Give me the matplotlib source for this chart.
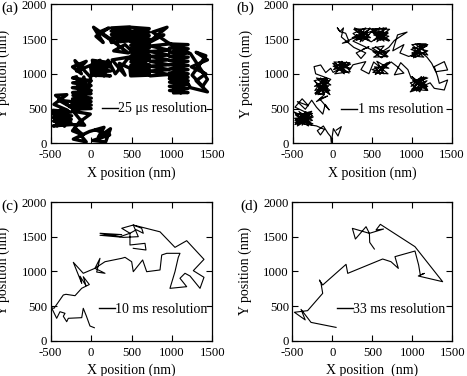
import matplotlib
matplotlib.use('Agg')
import matplotlib.pyplot as plt
from matplotlib.lines import Line2D

plt.rcParams['font.family'] = ['Liberation Serif', 'DejaVu Serif']
plt.rcParams['axes.unicode_minus'] = False

# trajectory, nm (x, y) in time order
traj_a = [
    (60, 190), (230, 120), (20, 40), (180, 20), (240, 210), (90, 90), (160, 230),
    (-20, 170), (-220, 60), (-60, 20), (-200, 220), (-100, 120), (-230, 180),
    (-150, 300), (-10, 420), (-220, 460), (-80, 260),
    (-240, 270), (-470, 250), (-250, 300), (-465, 320), (-245, 345), (-470, 370),
    (-240, 395), (-468, 420), (-245, 450), (-470, 475), (-420, 250), (-380, 478),
    (-330, 245), (-290, 475),
    (-460, 560), (-300, 700), (-440, 690), (-250, 520), (-400, 620), (-240, 600),
    (-230, 490), (0, 500), (-232, 540), (2, 550), (-228, 590), (0, 600), (-230, 640),
    (3, 650), (-225, 690), (0, 715),
    (-230, 730), (2, 760), (-232, 800), (0, 830), (-228, 870), (3, 900), (-230, 940),
    (-180, 958), (-140, 722), (-90, 955), (-40, 725), (-5, 950),
    (-200, 1190), (-120, 1000), (-230, 1100), (-60, 1180), (-180, 1040), (-10, 1120),
    (10, 980), (240, 970), (12, 1020), (242, 1040), (8, 1080), (240, 1100), (12, 1140),
    (238, 1160), (15, 1195), (60, 970), (110, 1195), (160, 970), (210, 1195),
    (300, 1000), (470, 1240), (260, 1200), (420, 980), (350, 1150), (480, 1080),
    (490, 970), (720, 980), (492, 1020), (722, 1030), (488, 1070), (720, 1080),
    (490, 1120), (722, 1130), (492, 1170), (720, 1195),
    (490, 1210), (722, 1220), (495, 1260), (720, 1270), (490, 1310), (722, 1320),
    (492, 1360), (720, 1370), (490, 1410), (718, 1435), (540, 1205), (600, 1435), (660, 1205),
    (730, 970), (960, 990), (728, 1040), (962, 1060), (730, 1110), (960, 1130),
    (728, 1180), (962, 1200), (730, 1250), (960, 1270), (728, 1320), (962, 1340),
    (735, 1400), (960, 1430),
    (970, 1430), (1200, 1420), (968, 1370), (1202, 1360), (970, 1310), (1200, 1300),
    (968, 1250), (1202, 1240), (970, 1190), (1200, 1180), (968, 1130), (1202, 1120),
    (970, 1070), (1200, 1060), (968, 1010), (1202, 1000), (970, 965),
    (1200, 950), (968, 930), (1202, 900), (970, 880), (1200, 850), (968, 820),
    (1202, 790), (970, 760), (1200, 730), (1020, 725), (1060, 955), (1110, 725), (1150, 955),
    (1230, 800), (1440, 740), (1300, 900), (1420, 1000), (1240, 1100), (1440, 1200),
    (1300, 1310), (1420, 1260), (1250, 980), (1380, 820), (1440, 920), (1230, 1290),
    (950, 1450), (760, 1600), (940, 1670), (740, 1480), (900, 1560),
    (720, 1450), (490, 1460), (722, 1500), (488, 1510), (720, 1550), (490, 1560),
    (722, 1600), (488, 1610), (720, 1650), (490, 1670),
    (480, 1675), (250, 1660), (482, 1625), (248, 1615), (480, 1575), (250, 1565),
    (482, 1525), (248, 1515), (480, 1475), (250, 1450),
    (240, 1500), (30, 1670), (150, 1450), (60, 1540), (220, 1660), (100, 1600),
    (300, 1440), (460, 1300), (280, 1330), (420, 1420), (500, 1330),
]

traj_b = [
    (50, 190), (113, 240), (71, 105), (13, 211), (-13, 10), (-21, 96), (-55, 144),
    (-113, 249), (-189, 182), (-150, 120), (-100, 200), (-200, 250),
    (-470, 300), (-250, 430), (-460, 420), (-260, 260), (-420, 460), (-300, 250),
    (-475, 360), (-240, 380), (-440, 250), (-330, 455), (-470, 270), (-250, 330),
    (-400, 440), (-280, 300), (-460, 400), (-260, 460), (-380, 260), (-320, 420),
    (-470, 330), (-245, 280), (-430, 380), (-290, 440), (-360, 300), (-480, 450),
    (-300, 360), (-420, 290), (-250, 400),
    (-470, 520), (-380, 640), (-300, 540), (-440, 600), (-340, 490), (-260, 620),
    (-200, 520), (-120, 420), (-90, 560), (-40, 480), (-160, 640), (-60, 680),
    (-200, 600), (-100, 700),
    (-220, 720), (-40, 900), (-200, 940), (-30, 760), (-180, 700), (-60, 930),
    (-225, 820), (-20, 840), (-150, 940), (-100, 710), (-210, 880), (-40, 720),
    (-130, 900), (-220, 760), (-50, 820), (-170, 730), (-80, 940), (-230, 900),
    (-30, 700), (-140, 800), (-200, 850), (-60, 760), (-120, 930), (-210, 700), (-20, 920),
    (-210, 1000), (-230, 1103), (-147, 1127), (-84, 1017), (-21, 1079),
    (10, 1020), (220, 1160), (20, 1170), (210, 1010), (40, 1100), (230, 1080),
    (5, 1150), (150, 1000), (80, 1175), (200, 1120), (15, 1060), (120, 1180),
    (225, 1030), (30, 1000), (180, 1170), (60, 1040), (230, 1140), (10, 1110),
    (170, 1020), (100, 1160), (220, 1060),
    (260, 1130), (420, 1175), (360, 1060), (460, 1000),
    (520, 1170), (700, 1000), (510, 1020), (690, 1160), (600, 990), (530, 1100),
    (710, 1080), (560, 1180), (650, 1000), (500, 1060), (680, 1130), (580, 1040),
    (720, 1170), (540, 990),
    (740, 1170), (820, 1100), (900, 1010), (780, 985), (860, 1160), (950, 1060),
    (990, 940), (1190, 760), (1000, 780), (1180, 950), (1010, 900), (1200, 820),
    (980, 740), (1150, 960), (1060, 750), (1190, 900), (990, 820), (1120, 960),
    (1200, 760), (1000, 960), (1170, 800), (1040, 870), (1200, 940), (980, 870),
    (1100, 740), (1150, 880), (1010, 760), (1190, 850),
    (1230, 870), (1282, 791), (1408, 767), (1450, 911), (1345, 863), (1324, 959),
    (1282, 1103), (1408, 1175), (1450, 1055), (1300, 1030), (1250, 1150),
    (1190, 1240), (1000, 1420), (1180, 1430), (990, 1260), (1150, 1240), (1010, 1380),
    (1200, 1330), (1050, 1240), (1000, 1300), (1190, 1400), (1080, 1430), (1200, 1270),
    (990, 1350), (1130, 1410), (1020, 1230), (1170, 1320), (1040, 1430), (1200, 1420),
    (1000, 1250), (1100, 1300),
    (960, 1250), (850, 1300), (900, 1420), (760, 1330), (820, 1560), (940, 1600), (780, 1480),
    (710, 1380), (520, 1240), (700, 1250), (540, 1390), (680, 1300), (510, 1320),
    (620, 1230), (720, 1340), (560, 1280), (650, 1400), (500, 1370), (690, 1240),
    (260, 1470), (480, 1650), (270, 1640), (470, 1480), (300, 1560), (490, 1460),
    (720, 1640), (500, 1650), (710, 1470), (520, 1560), (700, 1600), (560, 1460),
    (640, 1660), (600, 1480), (710, 1540), (490, 1600), (380, 1470), (260, 1580),
    (420, 1660), (300, 1480), (460, 1560), (280, 1660), (400, 1500), (330, 1640),
    (480, 1520), (250, 1520), (440, 1620), (350, 1460), (470, 1660), (620, 1520),
    (720, 1480), (540, 1640), (680, 1660), (520, 1480), (700, 1580), (580, 1620),
    (650, 1470), (500, 1600), (600, 1660),
    (240, 1500), (126, 1439), (210, 1463), (168, 1583), (97, 1607), (63, 1660),
    (97, 1607), (140, 1660), (113, 1530),
    (270, 1380), (420, 1300), (360, 1220), (300, 1300), (460, 1390), (380, 1350),
]

traj_c = [
    (40, 187), (-14, 212), (-60, 360), (-97, 467), (-116, 332), (-282, 323),
    (-302, 274), (-344, 352), (-323, 395), (-385, 418), (-426, 323), (-490, 476),
    (-459, 467), (-344, 659), (-311, 669), (-199, 649), (-116, 756), (-22, 810),
    (-97, 923), (-63, 793), (-137, 930), (-116, 828), (-220, 1130), (-97, 972),
    (48, 1044), (110, 1188), (69, 990), (172, 972), (48, 1044), (172, 1139),
    (379, 1188), (420, 1202), (502, 1139), (522, 995), (638, 1164), (688, 995),
    (853, 1020), (874, 1236), (936, 1260), (1100, 1260), (1079, 1202), (1038, 995),
    (976, 755), (1183, 779), (1100, 900), (1162, 972), (1224, 933), (1348, 755),
    (1397, 914), (1265, 1010), (1397, 1173), (1183, 1442), (1038, 1346), (853, 1570),
    (522, 1668), (379, 1621), (481, 1549), (358, 1500), (110, 1549), (379, 1530),
    (110, 1520), (400, 1490), (584, 1500), (522, 1668), (626, 1621), (646, 1549),
    (560, 1600), (481, 1549), (481, 1380), (667, 1404), (679, 1308), (522, 1332),
]

traj_d = [
    (46, 192), (-267, 264), (-392, 452), (-340, 300), (-475, 410), (-310, 433),
    (-121, 683), (-142, 827), (-162, 875), (-121, 803), (171, 1101), (192, 971),
    (629, 1178), (733, 1139), (825, 1043), (783, 1212), (1033, 1293), (1079, 1091),
    (1100, 947), (1150, 971), (1075, 933), (1379, 851), (1033, 1356), (600, 1678),
    (546, 1596), (640, 1610), (463, 1548), (421, 1644), (288, 1466), (250, 1620),
    (463, 1548), (467, 1418), (525, 1322),
]

panel_names = ['(a)', '(b)', '(c)', '(d)']
legend_texts = ['25 \u03bcs resolution', '1 ms resolution', '10 ms resolution', '33 ms resolution']
x_labels = ['X position (nm)', 'X position (nm)', 'X position (nm)', 'X position  (nm)']
x_ticks = [-500, 0, 500, 1000, 1500]
y_ticks = [0, 500, 1000, 1500, 2000]

trajs = [traj_a, traj_b, traj_c, traj_d]
widths = [2.4, 0.85, 0.8, 0.8]

fig = plt.figure(figsize=(4.67, 3.76), dpi=100)
W, H = 467, 376
# axes boxes in pixels: left, top, right, bottom
boxes = [(50.7, 4.3, 212.3, 143.3), (292.6, 4.3, 451.6, 143.3),
         (50.7, 202.0, 212.3, 340.7), (292.4, 202.0, 452.3, 340.7)]
leg_pos = [(0.316, 0.247), (0.306, 0.240), (0.297, 0.224), (0.277, 0.224)]
name_pos = [(1, 8), (236, 8), (1, 206), (240, 206)]

for i in range(4):
    l, t, r, b = boxes[i]
    ax = fig.add_axes([l / W, 1 - b / H, (r - l) / W, (b - t) / H])
    xs = [p[0] for p in trajs[i]]
    ys = [p[1] for p in trajs[i]]
    ax.plot(xs, ys, color='black', lw=widths[i], solid_joinstyle='round')
    ax.set_xlim(-500, 1500)
    ax.set_ylim(0, 2000)
    ax.set_xticks(x_ticks)
    ax.set_yticks(y_ticks)
    ax.tick_params(direction='in', top=True, right=True, length=4, width=0.8,
                   labelsize=9.2)
    ax.tick_params(axis='x', pad=4.3)
    ax.tick_params(axis='y', pad=2.5)
    for s in ax.spines.values():
        s.set_linewidth(0.9)
    ax.set_xlabel(x_labels[i], fontsize=10)
    ax.set_ylabel('Y position (nm)', fontsize=10)
    ax.xaxis.set_label_coords(0.5, -0.165)
    ax.yaxis.set_label_coords(-0.25, 0.5)
    h = Line2D([], [], color='black', lw=1.0)
    ax.legend([h], [legend_texts[i]], loc='center left', bbox_to_anchor=leg_pos[i],
              frameon=False, fontsize=10, borderpad=0, borderaxespad=0,
              handlelength=1.15, handletextpad=0.05)
    fig.text(name_pos[i][0] / W, 1 - name_pos[i][1] / H, panel_names[i],
             fontsize=11, ha='left', va='center')

fig.savefig('out.png', dpi=100)
